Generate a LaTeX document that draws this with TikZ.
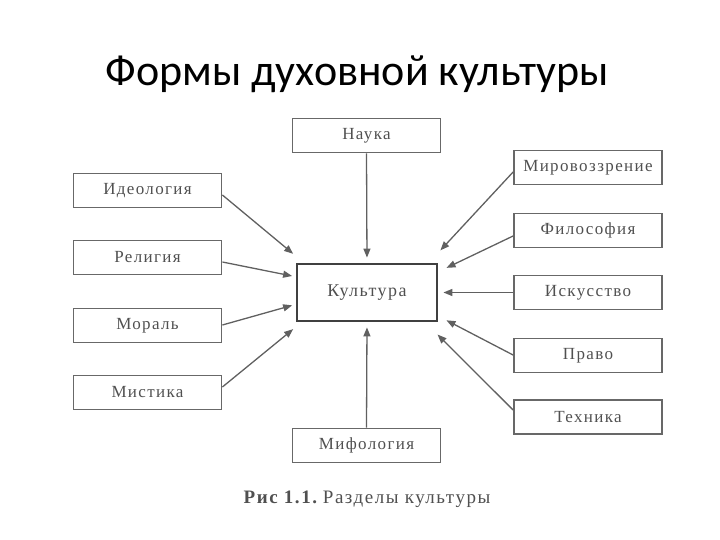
\documentclass[tikz,border=0pt]{standalone}
\usepackage{fontspec}
\setmainfont{Liberation Serif}
\newfontfamily\boxfont[LetterSpace=8]{Liberation Serif}
\newfontfamily\titlefont{Carlito}
\usetikzlibrary{arrows.meta}
\definecolor{txt}{HTML}{505050}
\definecolor{brd}{HTML}{686868}
\definecolor{arr}{HTML}{606060}
\begin{document}
\begin{tikzpicture}[x=1pt,y=-1pt,
  formbox/.style={draw=brd,line width=1.8pt,minimum width=148pt,minimum height=34pt,inner sep=0pt,text=txt,font=\boxfont\fontsize{17}{19}\selectfont},
  corebox/.style={draw=black!75,line width=2.8pt,minimum width=140pt,minimum height=57pt,inner sep=0pt,text=txt,font=\boxfont\fontsize{18}{20}\selectfont},
  link/.style={draw=arr,line width=1.3pt,-{Triangle[length=9pt,width=7pt]},shorten >=5pt}]
\useasboundingbox (0,0) rectangle (720,540);
\node[font=\titlefont\fontsize{44}{50}\selectfont,anchor=base] (title) at (357,86) {Формы духовной культуры};
\node[corebox] (k) at (367,292.5) {Культура};
\node[formbox] (nauka) at (366.5,135.5) {Наука};
\node[formbox] (ideo) at (147.5,190.5) {Идеология};
\node[formbox] (rel) at (147.5,257.5) {Религия};
\node[formbox] (mor) at (147.5,325.5) {Мораль};
\node[formbox] (mist) at (147.5,392.5) {Мистика};
\node[formbox] (mir) at (588,167.5) {Мировоззрение};
\node[formbox] (fil) at (588,230.5) {Философия};
\node[formbox] (isk) at (588,292.5) {Искусство};
\node[formbox] (pravo) at (588,355.5) {Право};
\node[formbox] (tech) at (588,417) {Техника};
\node[formbox] (mif) at (366.5,445.5) {Мифология};
\node[anchor=base,text=txt,font=\boxfont\fontsize{19}{22}\selectfont] (cap) at (367,503) {\textbf{Рис 1.1.}\hspace{-4pt} Разделы культуры};
\coordinate (tIdeo) at (297,257);
\coordinate (tRel) at (297,277);
\coordinate (tMor) at (297,304);
\coordinate (tMist) at (297,326);
\coordinate (tMir) at (437,254);
\coordinate (tFil) at (442,270);
\coordinate (tPr) at (442,318);
\coordinate (tTech) at (434,331);
\draw[link] (nauka.south) -- (k.north);
\draw[link] (ideo.east |- 0,195) -- (tIdeo);
\draw[link] (rel.east |- 0,262) -- (tRel);
\draw[link] (mor.east |- 0,325) -- (tMor);
\draw[link] (mist.east |- 0,387) -- (tMist);
\draw[link] (mir.west |- 0,172) -- (tMir);
\draw[link] (fil.west |- 0,236) -- (tFil);
\draw[link] (isk.west) -- (k.east);
\draw[link] (pravo.west |- 0,355) -- (tPr);
\draw[link] (tech.west |- 0,410) -- (tTech);
\draw[link] (mif.north) -- (k.south);
\end{tikzpicture}
\end{document}
